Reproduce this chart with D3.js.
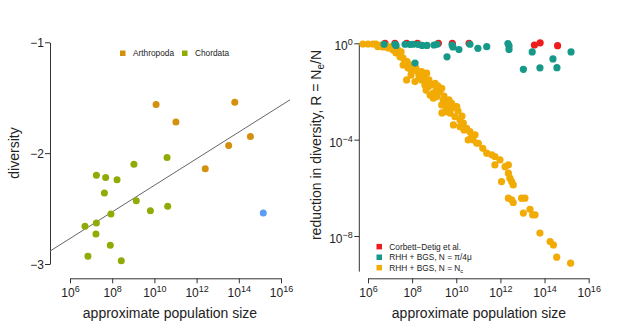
<!DOCTYPE html>
<html><head><meta charset="utf-8">
<script src="https://cdn.jsdelivr.net/npm/d3@7"></script>
<style>
body{margin:0;background:#fff}
text{font-family:"Liberation Sans",Arial,Helvetica,sans-serif;fill:#222}
</style>
</head><body>
<svg id="c" width="617" height="324"></svg>
<script>
// ---------- data ----------
const xTickExps = [6, 8, 10, 12, 14, 16];
const leftYTicks = [-3, -2, -1];
const leftYTickLabels = ["\u22123", "\u22122", "\u22121"];
const rightYTickExps = [-8, -4, 0];

// Left panel: log10(population size) vs log10 diversity
const arthropodaLogN = [10.08, 11.02, 13.81, 14.55, 13.52, 12.41];
const arthropodaDiv  = [-1.56, -1.72, -1.54, -1.85, -1.93, -2.14];
const chordataLogN = [7.25, 7.69, 8.23, 9.03, 10.60, 7.63, 9.14, 7.94, 9.81, 10.63, 6.71, 7.25, 7.23, 7.91, 6.85, 8.43];
const chordataDiv  = [-2.20, -2.22, -2.24, -2.10, -2.04, -2.36, -2.43, -2.55, -2.52, -2.48, -2.66, -2.63, -2.73, -2.83, -2.93, -2.97];
const otherLogN = [15.16];
const otherDiv  = [-2.54];
const fitIntercept = -3.49;
const fitSlope = 0.12;

// Right panel: log10(population size) vs log10 R
const corbettLogN = [6.77, 7.22, 7.75, 8.24, 9.19, 9.82, 10.58, 13.54, 13.80, 14.59];
const corbettLogR = [0, 0, 0, 0, 0, 0, 0, -0.07, 0.02, -0.10];
const piLogN = [6.73, 7.22, 7.27, 7.68, 7.90, 8.04, 8.27, 8.45, 8.67, 8.99, 9.13, 9.58, 9.81, 9.85, 10.12, 10.62, 10.98, 11.38, 12.34, 12.39, 12.39, 13.44, 13.04, 13.79, 14.38, 14.56, 15.20, 8.13];
const piLogR = [-0.04, -0.04, -0.09, -0.04, -0.05, -0.04, -0.05, -0.09, -0.09, -0.07, -0.04, -0.56, -0.07, -0.15, -0.26, -0.04, -0.21, -0.14, -0.01, -0.11, -0.26, -0.36, -1.08, -1.02, -0.65, -1.01, -0.36, -0.82];
const ncLogN = [5.77, 6.00, 6.23, 6.45, 6.68, 6.91, 7.04, 7.13, 7.27, 7.36,
  7.45, 7.59, 7.59, 7.68, 7.77, 7.81, 7.90, 8.04, 8.17, 8.27,
  7.75, 8.43, 8.49, 8.54, 8.66, 8.13, 8.43, 8.58, 8.73, 8.89,
  9.04, 9.11, 9.26, 9.34, 8.96, 9.11, 8.81, 8.96, 9.41, 9.34,
  9.64, 9.79, 10.02, 9.57, 9.49, 9.72, 9.94, 10.17, 9.87, 10.17,
  10.32, 10.47, 10.62, 10.54, 10.85, 10.70, 10.93, 11.00, 11.20, 11.38,
  11.61, 11.75, 11.98, 11.75, 12.21, 12.36, 12.36, 12.43, 12.51, 12.58,
  12.05, 12.36, 12.51, 12.58, 12.96, 13.11, 13.04, 13.34, 13.46, 13.57,
  13.79, 14.25, 14.40, 14.55, 15.18, 7.50, 7.95, 8.31, 8.76, 9.16,
  9.44, 9.67, 10.08, 9.81, 10.26, 6.59, 6.82, 6.36, 8.08, 8.63,
  7.95, 9.35, 10.35, 10.76];
const ncLogR = [-0.03, -0.03, -0.03, -0.14, -0.15, -0.20, -0.15, -0.28, -0.40, -0.28,
  -0.56, -0.61, -0.90, -0.78, -0.76, -1.02, -0.90, -1.11, -1.02, -1.19,
  -1.52, -1.18, -1.32, -1.44, -1.24, -1.59, -1.52, -1.73, -1.80, -1.73,
  -1.66, -1.94, -2.01, -1.87, -2.07, -2.22, -2.15, -2.28, -2.35, -2.56,
  -2.56, -2.49, -2.63, -2.68, -2.84, -2.90, -3.05, -3.18, -3.39, -3.46,
  -3.31, -3.53, -3.67, -4.01, -3.80, -3.88, -4.15, -4.15, -4.36, -4.56,
  -4.63, -4.70, -4.84, -5.05, -5.12, -5.05, -5.39, -5.60, -5.74, -5.88,
  -5.74, -6.43, -6.50, -6.61, -6.43, -6.43, -7.05, -6.89, -7.12, -7.12,
  -7.88, -8.23, -8.37, -8.88, -9.13, -0.36, -1.11, -1.36, -1.52, -1.77,
  -2.19, -2.35, -2.81, -2.68, -3.02, -0.07, -0.11, -0.03, -0.94, -1.94,
  -1.32, -2.89, -3.60, -4.01];

const leftLegend = ["Arthropoda", "Chordata"];
const rightLegend = ["Corbett\u2212Detig et al.", "RHH + BGS, N = \u03c0/4\u03bc", "RHH + BGS, N = N"];

// ---------- style ----------
const colArthropoda = "#d4900c", colChordata = "#8fab05", colOther = "#5b9cf5";
const colRed = "#ee1c1c", colTeal = "#17998a", colOrange = "#f2aa05";
const axisCol = "#333";
const svg = d3.select("#c");
svg.append("rect").attr("width", 617).attr("height", 324).attr("fill", "#fff");

function zip(a, b) { return a.map((v, i) => [v, b[i]]); }
function styleAxis(g) {
  g.selectAll("path,line").attr("stroke", axisCol).attr("stroke-width", 1);
  g.selectAll("text").remove();
}
function powText(sel, e) {
  sel.append("tspan").text("10");
  sel.append("tspan").attr("dy", -5).attr("font-size", 9).text(e < 0 ? "\u2212" + (-e) : String(e));
}

// ---------- LEFT PANEL ----------
const xL = d3.scaleLinear().domain([6, 16]).range([70, 281]);
const yL = d3.scaleLinear().domain([-3, -1]).range([264, 42.3]);

const gxL = svg.append("g").attr("transform", "translate(0,278.3)")
  .call(d3.axisBottom(xL).tickValues(xTickExps).tickSize(5).tickSizeOuter(0));
styleAxis(gxL);
gxL.selectAll(".tick").append("text").attr("y", 18.5).attr("text-anchor", "middle")
  .attr("font-size", 12).each(function (d) { powText(d3.select(this), d); });

const gyL = svg.append("g").attr("transform", "translate(50,0)")
  .call(d3.axisLeft(yL).tickValues(leftYTicks).tickSize(5).tickSizeOuter(0));
styleAxis(gyL);
gyL.selectAll(".tick").append("text").attr("x", -6).attr("y", 4.3).attr("text-anchor", "end")
  .attr("font-size", 12).text((d, i) => leftYTickLabels[i]);

// regression line across the plot region
const lx0 = xL.invert(50), lx1 = xL.invert(290);
svg.append("line")
  .attr("x1", xL(lx0)).attr("y1", yL(fitIntercept + fitSlope * lx0))
  .attr("x2", xL(lx1)).attr("y2", yL(fitIntercept + fitSlope * lx1))
  .attr("stroke", "#666").attr("stroke-width", 1);

function dots(data, xs, ys, col, r) {
  svg.append("g").selectAll("circle").data(data).join("circle")
    .attr("cx", d => xs(d[0])).attr("cy", d => ys(d[1])).attr("r", r).attr("fill", col);
}
dots(zip(chordataLogN, chordataDiv), xL, yL, colChordata, 3.5);
dots(zip(arthropodaLogN, arthropodaDiv), xL, yL, colArthropoda, 3.5);
dots(zip(otherLogN, otherDiv), xL, yL, colOther, 3.5);

// left legend
const legL = [{x: 120, c: colArthropoda, t: leftLegend[0]}, {x: 182, c: colChordata, t: leftLegend[1]}];
legL.forEach(l => {
  svg.append("rect").attr("x", l.x).attr("y", 50.5).attr("width", 5.5).attr("height", 5.5).attr("fill", l.c);
  svg.append("text").attr("x", l.x + 13).attr("y", 56.2).attr("font-size", 8.3).text(l.t);
});

svg.append("text").attr("transform", "translate(19,153) rotate(-90)").attr("text-anchor", "middle")
  .attr("font-size", 14).text("diversity");
svg.append("text").attr("x", 170).attr("y", 317.5).attr("text-anchor", "middle")
  .attr("font-size", 14).text("approximate population size");

// ---------- RIGHT PANEL ----------
const xR = d3.scaleLinear().domain([6, 16]).range([368, 588.7]);
const yR = d3.scaleLinear().domain([-8, 0]).range([236, 43.3]);
const yAxisBottom = -9.48;

const gxR = svg.append("g").attr("transform", "translate(0,278.3)")
  .call(d3.axisBottom(xR).tickValues(xTickExps).tickSize(5).tickSizeOuter(0));
styleAxis(gxR);
gxR.selectAll(".tick").append("text").attr("y", 18.5).attr("text-anchor", "middle")
  .attr("font-size", 12).each(function (d) { powText(d3.select(this), d); });

const gyR = svg.append("g").attr("transform", "translate(359.3,0)")
  .call(d3.axisLeft(yR).tickValues(rightYTickExps).tickSize(5).tickSizeOuter(0));
styleAxis(gyR);
gyR.select(".domain").remove();
gyR.append("line").attr("x1", 0).attr("x2", 0).attr("y1", yR(0)).attr("y2", yR(yAxisBottom))
  .attr("stroke", axisCol).attr("stroke-width", 1);
gyR.selectAll(".tick").append("text").attr("x", -6.5).attr("y", 6.5).attr("text-anchor", "end")
  .attr("font-size", 12).each(function (d) { powText(d3.select(this), d); });

dots(zip(corbettLogN, corbettLogR), xR, yR, colRed, 3.6);
dots(zip(ncLogN, ncLogR), xR, yR, colOrange, 3.6);
dots(zip(piLogN, piLogR), xR, yR, colTeal, 3.6);

// right legend
const legR = [{c: colRed, y: 246.7}, {c: colTeal, y: 257.3}, {c: colOrange, y: 267.7}];
legR.forEach((l, i) => {
  svg.append("rect").attr("x", 376.5).attr("y", l.y - 2.8).attr("width", 5.5).attr("height", 5.5).attr("fill", l.c);
  const t = svg.append("text").attr("x", 389.3).attr("y", l.y + 3).attr("font-size", 8.3).text(rightLegend[i]);
  if (i === 2) t.append("tspan").attr("dy", 2).attr("font-size", 6).text("c");
});

const yl = svg.append("text").attr("transform", "translate(321,145) rotate(-90)").attr("text-anchor", "middle")
  .attr("font-size", 14).text("reduction in diversity, R = N");
yl.append("tspan").attr("dy", 3).attr("font-size", 10).text("e");
yl.append("tspan").attr("dy", -3).text("/N");

svg.append("text").attr("x", 479).attr("y", 317.5).attr("text-anchor", "middle")
  .attr("font-size", 14).text("approximate population size");
</script>
</body></html>
